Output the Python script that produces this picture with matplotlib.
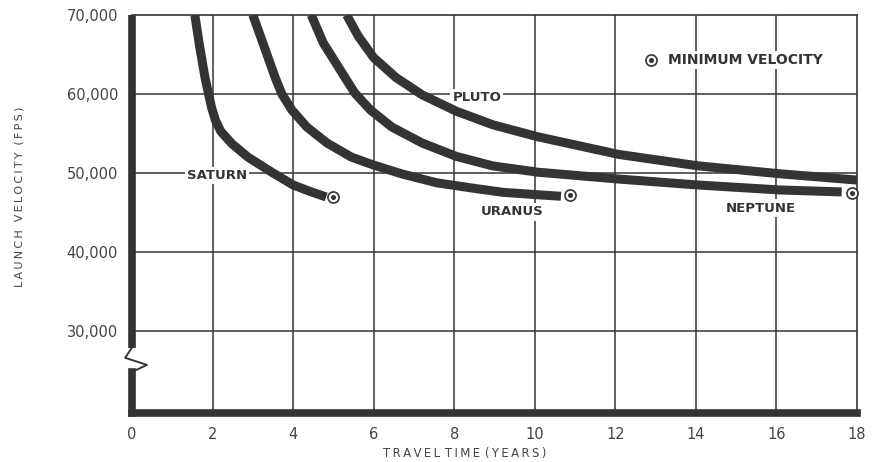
import matplotlib
matplotlib.use("Agg")
import matplotlib.pyplot as plt
from matplotlib.ticker import FuncFormatter

# travel time (years) vs launch velocity (fps)
saturn_x = [1.56, 1.68, 1.81, 1.90, 1.98, 2.07, 2.20, 2.48, 2.88, 3.50, 4.00, 4.40, 4.82]
saturn_y = [70000, 66000, 62150, 60000, 58200, 56700, 55300, 53700, 52000, 50000, 48480, 47700, 46960]

uranus_x = [3.00, 3.25, 3.55, 3.72, 3.97, 4.34, 4.84, 5.45, 6.00, 6.72, 7.57, 8.50, 9.21, 10.05, 10.65]
uranus_y = [70000, 66450, 62150, 60000, 57970, 55820, 53800, 52000, 51000, 49850, 48750, 48050, 47550, 47250, 47050]

neptune_x = [4.45, 4.75, 5.28, 5.53, 5.92, 6.45, 7.20, 8.05, 8.95, 10.07, 12.06, 14.04, 16.08, 17.62]
neptune_y = [70000, 66450, 62150, 60130, 57970, 55820, 53800, 52100, 50900, 50100, 49240, 48480, 47850, 47600]

pluto_x = [5.33, 5.62, 6.00, 6.55, 7.20, 8.06, 8.96, 10.06, 12.08, 14.06, 16.08, 18.0]
pluto_y = [70000, 67300, 64600, 62100, 59900, 57800, 56100, 54600, 52350, 50900, 49900, 49100]

# minimum velocity points (end of each curve)
min_x = [5.0, 10.87, 17.87]
min_y = [46960, 47150, 47500]

x_ticks = [0, 2, 4, 6, 8, 10, 12, 14, 16, 18]
y_ticks = [30000, 40000, 50000, 60000, 70000]

ink = "#343434"
text_col = "#444444"
thin = "\u2009"

fig = plt.figure(figsize=(8.76, 4.62), dpi=100)
ax = fig.add_axes([132 / 876, 1 - 413 / 462, (857 - 132) / 876, (413 - 15) / 462])
ax.set_xlim(0, 18)
ax.set_ylim(19610, 70000)

# grid
for gx in x_ticks[1:-1]:
    ax.axvline(gx, color=ink, lw=1.1, zorder=1)
for gy in y_ticks[:-1]:
    ax.axhline(gy, color=ink, lw=1.1, zorder=1)

for s in ["top", "right"]:
    ax.spines[s].set_color(ink)
    ax.spines[s].set_linewidth(1.2)
ax.spines["bottom"].set_color(ink)
ax.spines["bottom"].set_linewidth(5.5)
ax.spines["left"].set_visible(False)

# thick left axis with a break
ax.plot([0, 0], [19610, 24800], color=ink, lw=5.5, solid_capstyle="projecting", clip_on=False, zorder=4)
ax.plot([0, 0], [27900, 70000], color=ink, lw=5.5, solid_capstyle="butt", clip_on=False, zorder=4)
ax.plot([0, -0.17, 0.37, 0], [27900, 26600, 25700, 24800], color=ink, lw=1.4, clip_on=False, zorder=4)

# curves
for xs, ys in [(saturn_x, saturn_y), (uranus_x, uranus_y), (neptune_x, neptune_y), (pluto_x, pluto_y)]:
    ax.plot(xs, ys, color=ink, lw=6.5, solid_capstyle="butt", solid_joinstyle="round", zorder=3)

# minimum velocity markers
ax.plot(min_x, min_y, ls="none", marker="o", ms=8, mfc="white", mec=ink, mew=1.2, zorder=5, clip_on=False)
ax.plot(min_x, min_y, ls="none", marker="o", ms=2.6, mfc=ink, mec=ink, zorder=6, clip_on=False)

# legend
ax.plot([12.88], [64300], ls="none", marker="o", ms=8, mfc="white", mec=ink, mew=1.2, zorder=5)
ax.plot([12.88], [64300], ls="none", marker="o", ms=2.6, mfc=ink, mec=ink, zorder=6)
box = dict(facecolor="white", edgecolor="none", pad=1.5)
ax.text(13.3, 64300, "MINIMUM VELOCITY", fontsize=10, fontweight="bold", color=ink,
        ha="left", va="center", bbox=box, zorder=4)

# curve labels
lab = dict(fontsize=9.5, fontweight="bold", color=ink, ha="center", va="center", bbox=box, zorder=2)
ax.text(2.11, 49650, "SATURN", **lab)
ax.text(8.56, 59600, "PLUTO", **lab)
ax.text(9.45, 45060, "URANUS", **lab)
ax.text(15.6, 45560, "NEPTUNE", **lab)

ax.set_xticks(x_ticks)
ax.set_yticks(y_ticks)
ax.yaxis.set_major_formatter(FuncFormatter(lambda v, p: f"{int(v):,}"))
ax.tick_params(length=0, labelsize=10.5, labelcolor=text_col)
ax.tick_params(axis="x", pad=10)
ax.tick_params(axis="y", pad=10)

ylab = thin.join("LAUNCH VELOCITY") + thin * 3 + thin.join("(FPS)")
xlab = thin.join("TRAVEL") + thin * 2 + thin.join("TIME") + thin * 2 + thin.join("(YEARS)")
fig.text(20 / 876, 1 - 197 / 462, ylab, rotation=90, fontsize=8,
         color=text_col, ha="center", va="center")
fig.text(465 / 876, 1 - 453 / 462, xlab, fontsize=8.5,
         color=text_col, ha="center", va="center")

fig.savefig("out.png", dpi=100)
